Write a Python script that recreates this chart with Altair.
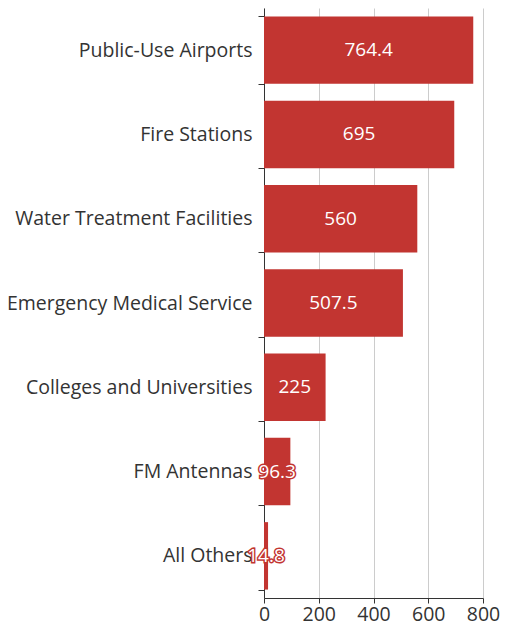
import altair as alt
import pandas as pd

categories = ["Public-Use Airports", "Fire Stations", "Water Treatment Facilities",
              "Emergency Medical Service", "Colleges and Universities", "FM Antennas", "All Others"]
values = [764.4, 695, 560, 507.5, 225, 96.3, 14.8]
labels = ["764.4", "695", "560", "507.5", "225", "96.3", "14.8"]

df = pd.DataFrame({"cat": categories, "val": values, "lab": labels})

FONT = "Open Sans"
RED = "#c23531"
AX = 19.5
TX = 19

y_enc = alt.Y("cat:N", sort=categories, title=None,
              scale=alt.Scale(paddingInner=0.2, paddingOuter=0.1),
              axis=alt.Axis(tickBand="extent", tickSize=6, labelPadding=6, labelLimit=400,
                            domainColor="#333", tickColor="#333", labelColor="#333",
                            labelFontSize=AX, labelFont=FONT, grid=False))
x_enc = alt.X("val:Q", title=None,
              scale=alt.Scale(domain=[0, 800], nice=False),
              axis=alt.Axis(values=[0, 200, 400, 600, 800], tickSize=5, labelPadding=2,
                            domainColor="#333", tickColor="#333", labelColor="#333",
                            labelFontSize=AX, labelFont=FONT, grid=True, gridColor="#ccc",
                            labelFlush=False))

base = alt.Chart(df)
bars = base.mark_bar(color=RED).encode(x=x_enc, y=y_enc)

text_enc = dict(
    x=alt.X("mid:Q"),
    y=alt.Y("cat:N", sort=categories),
    text="lab:N",
)
halo = base.transform_calculate(mid="datum.val / 2").mark_text(
    font=FONT, fontSize=TX, color=RED, stroke=RED, strokeWidth=3,
    align="center", baseline="middle").encode(**text_enc)
txt = base.transform_calculate(mid="datum.val / 2").mark_text(
    font=FONT, fontSize=TX, color="white",
    align="center", baseline="middle").encode(**text_enc)

chart = alt.layer(bars, halo, txt).properties(
    width=219, height=590,
    padding={"left": 256, "top": 0, "right": 17, "bottom": 28},
    autosize=alt.AutoSizeParams(type="none"),
).configure_view(stroke=None)

chart.save("out.html", embed_options={"renderer": "svg", "actions": False})
